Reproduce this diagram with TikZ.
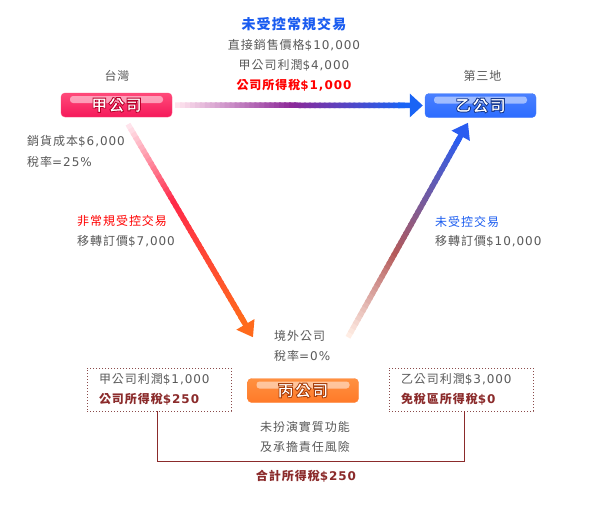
\documentclass[tikz,border=0pt]{standalone}
\usepackage{fontspec}
\setmainfont{Noto Sans CJK TC}[LetterSpace=8]
\newfontfamily\latf{DejaVu Sans}[LetterSpace=8]
\usetikzlibrary{arrows.meta,calc}
\definecolor{txtgray}{HTML}{595959}
\definecolor{tblue}{HTML}{1A5CF0}
\definecolor{tred}{HTML}{FF0000}
\definecolor{dred}{HTML}{8B2B2B}
\definecolor{dotc}{HTML}{8B4B4B}
\definecolor{jiaA}{HTML}{FF4A7A}
\definecolor{jiaB}{HTML}{FF1A58}
\definecolor{jiaC}{HTML}{F5195A}
\definecolor{yiA}{HTML}{4A80FF}
\definecolor{yiB}{HTML}{1A5CF5}
\definecolor{yiC}{HTML}{2C6CFF}
\definecolor{bingA}{HTML}{FF9040}
\definecolor{bingB}{HTML}{FF6A10}
\definecolor{bingC}{HTML}{FF7A28}
% arrow colours
\definecolor{aOa}{HTML}{FFE4EE}
\definecolor{aOb}{HTML}{8C2898}
\definecolor{aOc}{HTML}{1A64F5}
\definecolor{aLa}{HTML}{FFE4EC}
\definecolor{aLb}{HTML}{FF2A4A}
\definecolor{aLc}{HTML}{FF6A1C}
\definecolor{aRa}{HTML}{FFEDE4}
\definecolor{aRb}{HTML}{B45A5A}
\definecolor{aRc}{HTML}{2A5CF0}
\newcommand{\lnum}[1]{{\latf #1}}
% outlined text: fill white, stroke in given RGB
\newcommand{\outl}[2]{\special{pdf:literal direct 2 Tr 0.85 w #1 RG}#2\special{pdf:literal direct 0 Tr 1 w}}
\newcommand{\gradarrow}[7]{%
  \foreach \i in {0,...,45}{%
    \pgfmathsetmacro{\ga}{0.92*\i/46}%
    \pgfmathsetmacro{\gb}{0.92*(\i+1.4)/46}%
    \pgfmathtruncatemacro{\gsel}{\ga<#6 ? 1 : 0}%
    \ifnum\gsel=1
      \pgfmathtruncatemacro{\gp}{100*\ga/#6}%
      \colorlet{gcol}{#4!\gp!#3}%
    \else
      \pgfmathtruncatemacro{\gp}{min(100,100*(\ga-#6)/(0.92-#6))}%
      \colorlet{gcol}{#5!\gp!#4}%
    \fi
    \draw[line width=5.5pt, gcol] ($(#1)!\ga!(#2)$) -- ($(#1)!\gb!(#2)$);
  }
  \draw[line width=5.5pt, #5, -{Triangle[#7]}] ($(#1)!0.9!(#2)$) -- (#2);
}
\begin{document}
\begin{tikzpicture}[x=1pt,y=-1pt,
  txt/.style={inner sep=0pt, text=txtgray, font=\fontsize{12}{14}\selectfont},
  redtxt/.style={txt, text=tred},
  bluetxt/.style={txt, text=tblue},
  redbold/.style={txt, text=tred, font=\fontsize{12}{14}\selectfont\bfseries},
  dredbold/.style={txt, text=dred, font=\fontsize{12}{14}\selectfont\bfseries},
  titletxt/.style={inner sep=0pt, text=tblue, font=\fontsize{14}{16}\selectfont\bfseries},
  corp/.style={rounded corners=4pt, minimum width=111pt, minimum height=24pt, inner sep=0pt,
    text=white, font=\fontsize{16}{16}\selectfont\bfseries},
  hilite/.style={path picture={\fill[white,opacity=0.5,rounded corners=3pt]
     ($(path picture bounding box.north west)+(9pt,-3pt)$) rectangle
     ($(path picture bounding box.north east)+(-9pt,-10pt)$);}},
  jiabox/.style={corp, top color=jiaA, middle color=jiaB, bottom color=jiaC, draw=jiaB!80!white, hilite},
  yibox/.style={corp, top color=yiA, middle color=yiB, bottom color=yiC, draw=yiB!80!white, hilite},
  bingbox/.style={corp, top color=bingA, middle color=bingB, bottom color=bingC, draw=bingB!80!white, hilite},
  dotbox/.style={draw=dotc, dash pattern=on 1pt off 2pt, line width=0.8pt,
    minimum width=144pt, minimum height=43pt, inner xsep=12pt, inner ysep=0pt,
    text width=120pt, align=left, text=txtgray, font=\fontsize{12}{19.5}\selectfont},
  bracket/.style={draw=dred, line width=1pt}
]
\useasboundingbox (0,0) rectangle (600,514);

% company boxes
\node[jiabox] (jia) at (116.5,105) {\outl{0.72 0 0.17}{甲公司}};
\node[yibox] (yi) at (480.5,105.5) {\outl{0.10 0.23 0.56}{乙公司}};
\node[bingbox] (bing) at (303,390.5) {\outl{0.66 0.25 0.05}{丙公司}};

% arrows
\coordinate (a1s) at ($(jia.east)+(3,0)$);
\coordinate (a1e) at ($(yi.west)+(-2,0)$);
\coordinate (a2s) at ($(jia.south)+(11.5,7)$);
\coordinate (a2e) at ($(bing.north)+(-50,-41)$);
\coordinate (a3s) at ($(bing.north)+(45,-41)$);
\coordinate (a3e) at ($(yi.south)+(-12.5,5)$);
\gradarrow{a1s}{a1e}{aOa}{aOb}{aOc}{0.46}{length=13pt,width=23pt}
\gradarrow{a2s}{a2e}{aLa}{aLb}{aLc}{0.35}{length=15pt,width=20pt}
\gradarrow{a3s}{a3e}{aRa}{aRb}{aRc}{0.38}{length=15pt,width=20pt}

% top texts
\node[titletxt] (ttl) at (294,24) {未受控常規交易};
\node[txt] (l1) at (294,45.5) {直接銷售價格\lnum{\$10,000}};
\node[txt] (l2) at (294,65) {甲公司利潤\lnum{\$4,000}};
\node[redbold] (l3) at (294,85) {公司所得稅\lnum{\$1,000}};
\node[txt] (tw) at (117,75.5) {台灣};
\node[txt] (dsd) at (482.5,76) {第三地};

% left texts
\node[txt, anchor=west] (cost) at (27,141) {銷貨成本\lnum{\$6,000}};
\node[txt, anchor=west] (rate) at (27,161.5) {稅率\lnum{=25\%}};
\node[redtxt, anchor=west] (nc) at (77,221) {非常規受控交易};
\node[txt, anchor=west] (tp7) at (77,241) {移轉訂價\lnum{\$7,000}};

% right texts
\node[bluetxt, anchor=west] (uc) at (435,221.5) {未受控交易};
\node[txt, anchor=west] (tp10) at (435,241) {移轉訂價\lnum{\$10,000}};

% offshore
\node[txt, anchor=west] (off) at (274,336) {境外公司};
\node[txt, anchor=west] (r0) at (274,355.5) {稅率\lnum{=0\%}};

% dotted boxes
\node[dotbox] (lbox) at (159,389.5) {甲公司利潤\lnum{\$1,000}\\\textcolor{dred}{\bfseries 公司所得稅\lnum{\$250}}};
\node[dotbox] (rbox) at (461,389.5) {乙公司利潤\lnum{\$3,000}\\\textcolor{dred}{\bfseries 免稅區所得稅\lnum{\$0}}};

% bottom texts
\node[txt] (nf1) at (305,426.5) {未扮演實質功能};
\node[txt] (nf2) at (305,446.5) {及承擔責任風險};
\node[dredbold] (tot) at (306,476) {合計所得稅\lnum{\$250}};

% bracket
\draw[bracket] ([xshift=-2pt]lbox.south) -- ++(0,50) -| ([xshift=3pt]rbox.south);
\end{tikzpicture}
\end{document}
